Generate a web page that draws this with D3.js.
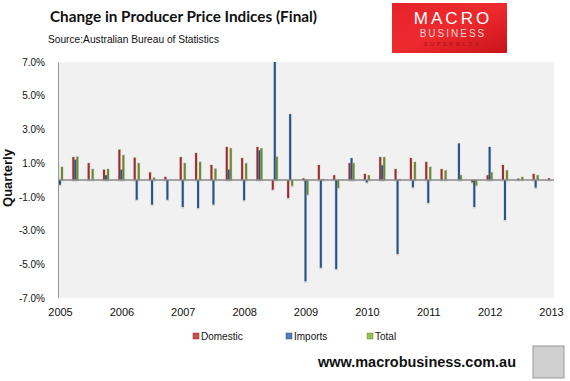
<!DOCTYPE html>
<html>
<head>
<meta charset="utf-8">
<script src="https://cdn.jsdelivr.net/npm/d3@7"></script>
<style>
  body { margin: 0; background: #fff; }
  svg { display: block; }
</style>
</head>
<body>
<svg></svg>
<script>
// quarterly % change, 2005 Q1 .. 2013 Q1
var quarters = d3.range(33);
var domestic = [1.0, 1.36, 1.0, 0.61, 1.8, 1.32, 0.45, 0.18, 1.36, 1.6,
  0.89, 1.96, 1.3, 1.96, -0.57, -1.07, 0.1, 0.89, 0.28, 1.0,
  0.36, 1.36, 0.65, 1.3, 1.07, 0.65, 0.0, -0.14, 0.28, 0.89,
  0.08, 0.36, 0.1];
var imports = [-0.28, 1.2, 0.0, 0.28, 0.61, -1.17, -1.46, -1.17, -1.6, -1.66,
  -1.45, 0.61, -1.2, 1.76, 7.5, 3.91, -6.0, -5.2, -5.28, 1.3,
  -0.14, 0.87, -4.39, -0.43, -1.36, 0.0, 2.17, -1.6, 1.96, -2.37,
  0.0, -0.45, 0.0];
var total = [0.77, 1.38, 0.65, 0.65, 1.48, 1.0, 0.14, 0.0, 1.0, 1.07,
  0.67, 1.88, 0.99, 1.88, 1.38, -0.34, -0.87, 0.05, -0.47, 1.0,
  0.28, 1.36, 0.05, 1.07, 0.77, 0.57, 0.28, -0.32, 0.45, 0.57,
  0.18, 0.28, 0.0];
var yearLabels = ["2005", "2006", "2007", "2008", "2009", "2010", "2011", "2012", "2013"];
var yTicks = [7, 5, 3, 1, -1, -3, -5, -7];

var series = [
  { name: "Domestic", values: domestic, color: "#a32a2a", light: "#c0504d", off: -3 },
  { name: "Imports", values: imports, color: "#24528f", light: "#4f81bd", off: -1 },
  { name: "Total", values: total, color: "#6a8a2c", light: "#9bbb59", off: 1 }
];

var svgWidth = 570, svgHeight = 381;
var plot = { left: 58, right: 554, top: 62, bottom: 298 };

var svg = d3.select("svg")
  .attr("width", svgWidth)
  .attr("height", svgHeight)
  .style("font-family", "'Liberation Sans', Arial, sans-serif");

var x = d3.scaleLinear().domain([0, 32]).range([60, 551]);
var y = d3.scaleLinear().domain([-7, 7]).range([plot.bottom, plot.top]);

// plot background
svg.append("rect")
  .attr("x", plot.left).attr("y", plot.top)
  .attr("width", plot.right - plot.left)
  .attr("height", plot.bottom - plot.top)
  .attr("fill", "#f1f1f1");

svg.append("clipPath").attr("id", "clip")
  .append("rect")
  .attr("x", plot.left).attr("y", plot.top)
  .attr("width", plot.right - plot.left)
  .attr("height", plot.bottom - plot.top);

var bars = svg.append("g").attr("clip-path", "url(#clip)");

series.forEach(function(s) {
  // soft shadow
  bars.selectAll(null)
    .data(quarters)
    .enter().append("rect")
    .attr("x", function(i) { return x(i) + s.off - 0.5; })
    .attr("y", function(i) { return Math.min(y(s.values[i]), y(0)) - 0.5; })
    .attr("width", 3)
    .attr("height", function(i) { return Math.abs(y(s.values[i]) - y(0)) + 2; })
    .attr("fill", "#999")
    .attr("opacity", function(i) { return s.values[i] == 0 ? 0 : 0.35; });
  bars.selectAll(null)
    .data(quarters)
    .enter().append("rect")
    .attr("x", function(i) { return x(i) + s.off; })
    .attr("y", function(i) { return Math.min(y(s.values[i]), y(0)); })
    .attr("width", 2)
    .attr("height", function(i) { return Math.abs(y(s.values[i]) - y(0)); })
    .attr("fill", s.color);
});

// zero line
svg.append("line")
  .attr("x1", plot.left).attr("x2", plot.right)
  .attr("y1", y(0)).attr("y2", y(0))
  .attr("stroke", "#8a8a8a")
  .attr("stroke-width", 1.5);

// y axis
var yAxis = svg.append("g")
  .attr("transform", "translate(" + plot.left + ",0)")
  .call(d3.axisLeft(y).tickValues(yTicks).tickSize(0).tickPadding(13)
    .tickFormat(function(d) { return d.toFixed(1) + "%"; }));
yAxis.select(".domain").attr("stroke", "#9a9a9a").attr("stroke-width", 1);
yAxis.selectAll("text")
  .attr("font-size", 10)
  .attr("font-family", "'Liberation Sans', Arial, sans-serif")
  .attr("fill", "#111");

// x axis labels (years)
var xAxis = svg.append("g")
  .attr("transform", "translate(0," + plot.bottom + ")")
  .call(d3.axisBottom(x).tickValues(d3.range(0, 33, 4)).tickSize(0).tickPadding(10)
    .tickFormat(function(d, i) { return yearLabels[i]; }));
xAxis.select(".domain").remove();
xAxis.selectAll("text")
  .attr("font-size", 11)
  .attr("font-family", "'Liberation Sans', Arial, sans-serif")
  .attr("fill", "#111");

// y label
svg.append("text")
  .attr("transform", "translate(12,178) rotate(-90)")
  .attr("text-anchor", "middle")
  .attr("font-size", 12)
  .attr("font-weight", "bold")
  .attr("textLength", 58)
  .attr("lengthAdjust", "spacingAndGlyphs")
  .attr("fill", "#111")
  .text("Quarterly");

// titles
svg.append("text")
  .attr("x", 50).attr("y", 22)
  .attr("font-size", 15)
  .attr("font-weight", "bold")
  .attr("font-family", "Lato, 'Open Sans', sans-serif")
  .attr("textLength", 267)
  .attr("lengthAdjust", "spacingAndGlyphs")
  .attr("fill", "#111")
  .text("Change in Producer Price Indices (Final)");
svg.append("text")
  .attr("x", 48).attr("y", 43)
  .attr("font-size", 11)
  .attr("textLength", 171)
  .attr("lengthAdjust", "spacingAndGlyphs")
  .attr("fill", "#111")
  .text("Source:Australian Bureau of Statistics");

// logo
var grad = svg.append("defs").append("linearGradient")
  .attr("id", "logoGrad").attr("x1", "0").attr("x2", "1").attr("y1", "0").attr("y2", "1");
grad.append("stop").attr("offset", "0").attr("stop-color", "#e4232a");
grad.append("stop").attr("offset", "0.5").attr("stop-color", "#ee2a2e");
grad.append("stop").attr("offset", "1").attr("stop-color", "#c8141a");
svg.append("rect")
  .attr("x", 392).attr("y", 3).attr("width", 115).attr("height", 50)
  .attr("fill", "url(#logoGrad)");
svg.append("text")
  .attr("x", 453).attr("y", 24)
  .attr("text-anchor", "middle")
  .attr("font-size", 17)
  .attr("letter-spacing", 3)
  .attr("fill", "#fff")
  .text("MACRO");
svg.append("text")
  .attr("x", 453).attr("y", 37)
  .attr("text-anchor", "middle")
  .attr("font-size", 10)
  .attr("letter-spacing", 2)
  .attr("fill", "#f7d4d4")
  .text("BUSINESS");
svg.append("text")
  .attr("x", 453).attr("y", 46)
  .attr("text-anchor", "middle")
  .attr("font-size", 5)
  .attr("letter-spacing", 3)
  .attr("fill", "#a01015")
  .text("SUPERBLOG");

// legend
var legendX = [193, 286, 367];
var legend = svg.append("g");
series.forEach(function(s, i) {
  legend.append("rect")
    .attr("x", legendX[i]).attr("y", 333)
    .attr("width", 6).attr("height", 6)
    .attr("fill", s.light)
    .attr("stroke", s.color).attr("stroke-width", 0.5);
  legend.append("text")
    .attr("x", legendX[i] + 8).attr("y", 339.5)
    .attr("font-size", 10)
    .attr("fill", "#111")
    .text(s.name);
});

// footer
svg.append("text")
  .attr("x", 318).attr("y", 367)
  .attr("font-size", 14)
  .attr("font-weight", "bold")
  .attr("textLength", 198)
  .attr("lengthAdjust", "spacingAndGlyphs")
  .attr("fill", "#111")
  .text("www.macrobusiness.com.au");
svg.append("rect")
  .attr("x", 533).attr("y", 346).attr("width", 31).attr("height", 32)
  .attr("fill", "#cfcfcf")
  .attr("stroke", "#999");
</script>
</body>
</html>
